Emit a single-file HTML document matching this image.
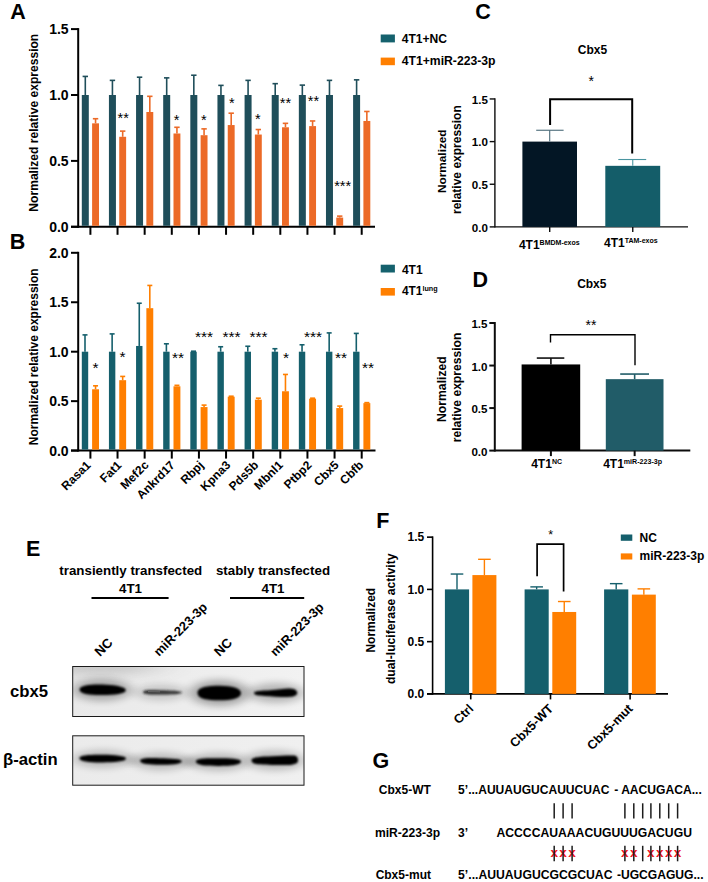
<!DOCTYPE html>
<html><head><meta charset="utf-8"><title>Figure</title>
<style>
html,body{margin:0;padding:0;background:#fff;}
svg{display:block;}
svg text{font-family:'Liberation Sans',sans-serif;font-weight:bold;}
svg text[font-weight=normal]{font-weight:normal;}
</style></head>
<body>
<svg width="708" height="882" viewBox="0 0 708 882">
<defs>
<filter id="b1" x="-20%" y="-80%" width="140%" height="260%"><feGaussianBlur stdDeviation="1.25 0.95"/></filter>
<filter id="b0" x="-20%" y="-300%" width="140%" height="700%"><feGaussianBlur stdDeviation="0.5"/></filter>
<filter id="b2" x="-20%" y="-100%" width="140%" height="300%"><feGaussianBlur stdDeviation="1.2 0.8"/></filter>
<filter id="b4" x="-80%" y="-300%" width="260%" height="700%"><feGaussianBlur stdDeviation="18 6"/></filter>
<filter id="b3" x="-50%" y="-150%" width="200%" height="400%"><feGaussianBlur stdDeviation="6 3.5"/></filter>
<linearGradient id="blotbg1" x1="0" y1="0" x2="1" y2="0"><stop offset="0" stop-color="#e9e9e9"/><stop offset="0.6" stop-color="#eeeeee"/><stop offset="1" stop-color="#f2f2f2"/></linearGradient>
<linearGradient id="blotsh1" x1="0" y1="0" x2="0.6" y2="1"><stop offset="0" stop-color="#bdbdbd" stop-opacity="0.55"/><stop offset="1" stop-color="#dddddd" stop-opacity="0"/></linearGradient>
<linearGradient id="blotbg2" x1="0" y1="0" x2="1" y2="0"><stop offset="0" stop-color="#ebebeb"/><stop offset="1" stop-color="#f0f0f0"/></linearGradient>
<clipPath id="clip1"><rect x="72.7" y="666.5" width="231.3" height="50"/></clipPath>
<clipPath id="clip2"><rect x="72.7" y="735.8" width="231.3" height="49.4"/></clipPath>
</defs>
<rect width="708" height="882" fill="#fff"/>
<text x="10.2" y="19.1" font-size="21.5" text-anchor="start" fill="#000">A</text>
<text x="37.7" y="122.7" font-size="12.08" text-anchor="middle" fill="#000" transform="rotate(-90 37.7 122.7)">Normalized relative expression</text>
<line x1="78.2" y1="28.099999999999994" x2="78.2" y2="227.8" stroke="#000" stroke-width="2" stroke-linecap="butt"/>
<line x1="71" y1="226.8" x2="375" y2="226.8" stroke="#000" stroke-width="2" stroke-linecap="butt"/>
<line x1="71" y1="226.8" x2="78.2" y2="226.8" stroke="#000" stroke-width="2" stroke-linecap="butt"/>
<text x="68.6" y="231.8" font-size="14" text-anchor="end" fill="#000">0.0</text>
<line x1="71" y1="160.9" x2="78.2" y2="160.9" stroke="#000" stroke-width="2" stroke-linecap="butt"/>
<text x="68.6" y="165.9" font-size="14" text-anchor="end" fill="#000">0.5</text>
<line x1="71" y1="95.0" x2="78.2" y2="95.0" stroke="#000" stroke-width="2" stroke-linecap="butt"/>
<text x="68.6" y="100.0" font-size="14" text-anchor="end" fill="#000">1.0</text>
<line x1="71" y1="29.099999999999994" x2="78.2" y2="29.099999999999994" stroke="#000" stroke-width="2" stroke-linecap="butt"/>
<text x="68.6" y="34.099999999999994" font-size="14" text-anchor="end" fill="#000">1.5</text>
<line x1="90.4" y1="226.8" x2="90.4" y2="234.8" stroke="#000" stroke-width="2" stroke-linecap="butt"/>
<rect x="81.80" y="95.00" width="7.00" height="130.80" fill="#1f4e5a"/>
<line x1="85.30000000000001" y1="95.0" x2="85.30000000000001" y2="76.4162" stroke="#1f4e5a" stroke-width="1.6" stroke-linecap="butt"/>
<line x1="82.60000000000001" y1="76.4162" x2="88.00000000000001" y2="76.4162" stroke="#1f4e5a" stroke-width="1.6" stroke-linecap="butt"/>
<rect x="92.10" y="123.34" width="6.90" height="102.46" fill="#ec6a27"/>
<line x1="95.55000000000001" y1="123.337" x2="95.55000000000001" y2="118.724" stroke="#ec6a27" stroke-width="1.6" stroke-linecap="butt"/>
<line x1="92.85000000000001" y1="118.724" x2="98.25000000000001" y2="118.724" stroke="#ec6a27" stroke-width="1.6" stroke-linecap="butt"/>
<line x1="117.53" y1="226.8" x2="117.53" y2="234.8" stroke="#000" stroke-width="2" stroke-linecap="butt"/>
<rect x="108.93" y="95.00" width="7.00" height="130.80" fill="#1f4e5a"/>
<line x1="112.43" y1="95.0" x2="112.43" y2="80.37020000000001" stroke="#1f4e5a" stroke-width="1.6" stroke-linecap="butt"/>
<line x1="109.73" y1="80.37020000000001" x2="115.13000000000001" y2="80.37020000000001" stroke="#1f4e5a" stroke-width="1.6" stroke-linecap="butt"/>
<rect x="119.23" y="136.78" width="6.90" height="89.02" fill="#ec6a27"/>
<line x1="122.68" y1="136.7806" x2="122.68" y2="131.1132" stroke="#ec6a27" stroke-width="1.6" stroke-linecap="butt"/>
<line x1="119.98" y1="131.1132" x2="125.38000000000001" y2="131.1132" stroke="#ec6a27" stroke-width="1.6" stroke-linecap="butt"/>
<line x1="144.66" y1="226.8" x2="144.66" y2="234.8" stroke="#000" stroke-width="2" stroke-linecap="butt"/>
<rect x="136.06" y="95.00" width="7.00" height="130.80" fill="#1f4e5a"/>
<line x1="139.56" y1="95.0" x2="139.56" y2="77.207" stroke="#1f4e5a" stroke-width="1.6" stroke-linecap="butt"/>
<line x1="136.86" y1="77.207" x2="142.26" y2="77.207" stroke="#1f4e5a" stroke-width="1.6" stroke-linecap="butt"/>
<rect x="146.36" y="112.00" width="6.90" height="113.80" fill="#ec6a27"/>
<line x1="149.80999999999997" y1="112.0022" x2="149.80999999999997" y2="96.31800000000001" stroke="#ec6a27" stroke-width="1.6" stroke-linecap="butt"/>
<line x1="147.10999999999999" y1="96.31800000000001" x2="152.50999999999996" y2="96.31800000000001" stroke="#ec6a27" stroke-width="1.6" stroke-linecap="butt"/>
<line x1="171.79000000000002" y1="226.8" x2="171.79000000000002" y2="234.8" stroke="#000" stroke-width="2" stroke-linecap="butt"/>
<rect x="163.19" y="95.00" width="7.00" height="130.80" fill="#1f4e5a"/>
<line x1="166.69000000000003" y1="95.0" x2="166.69000000000003" y2="77.86600000000001" stroke="#1f4e5a" stroke-width="1.6" stroke-linecap="butt"/>
<line x1="163.99000000000004" y1="77.86600000000001" x2="169.39000000000001" y2="77.86600000000001" stroke="#1f4e5a" stroke-width="1.6" stroke-linecap="butt"/>
<rect x="173.49" y="133.49" width="6.90" height="92.31" fill="#ec6a27"/>
<line x1="176.94" y1="133.4856" x2="176.94" y2="127.291" stroke="#ec6a27" stroke-width="1.6" stroke-linecap="butt"/>
<line x1="174.24" y1="127.291" x2="179.64" y2="127.291" stroke="#ec6a27" stroke-width="1.6" stroke-linecap="butt"/>
<line x1="198.92000000000002" y1="226.8" x2="198.92000000000002" y2="234.8" stroke="#000" stroke-width="2" stroke-linecap="butt"/>
<rect x="190.32" y="95.00" width="7.00" height="130.80" fill="#1f4e5a"/>
<line x1="193.82000000000002" y1="95.0" x2="193.82000000000002" y2="75.23000000000002" stroke="#1f4e5a" stroke-width="1.6" stroke-linecap="butt"/>
<line x1="191.12000000000003" y1="75.23000000000002" x2="196.52" y2="75.23000000000002" stroke="#1f4e5a" stroke-width="1.6" stroke-linecap="butt"/>
<rect x="200.62" y="135.20" width="6.90" height="90.60" fill="#ec6a27"/>
<line x1="204.07" y1="135.199" x2="204.07" y2="128.8726" stroke="#ec6a27" stroke-width="1.6" stroke-linecap="butt"/>
<line x1="201.37" y1="128.8726" x2="206.76999999999998" y2="128.8726" stroke="#ec6a27" stroke-width="1.6" stroke-linecap="butt"/>
<line x1="226.05" y1="226.8" x2="226.05" y2="234.8" stroke="#000" stroke-width="2" stroke-linecap="butt"/>
<rect x="217.45" y="95.00" width="7.00" height="130.80" fill="#1f4e5a"/>
<line x1="220.95000000000002" y1="95.0" x2="220.95000000000002" y2="85.3786" stroke="#1f4e5a" stroke-width="1.6" stroke-linecap="butt"/>
<line x1="218.25000000000003" y1="85.3786" x2="223.65" y2="85.3786" stroke="#1f4e5a" stroke-width="1.6" stroke-linecap="butt"/>
<rect x="227.75" y="125.05" width="6.90" height="100.75" fill="#ec6a27"/>
<line x1="231.2" y1="125.0504" x2="231.2" y2="113.1884" stroke="#ec6a27" stroke-width="1.6" stroke-linecap="butt"/>
<line x1="228.5" y1="113.1884" x2="233.89999999999998" y2="113.1884" stroke="#ec6a27" stroke-width="1.6" stroke-linecap="butt"/>
<line x1="253.18" y1="226.8" x2="253.18" y2="234.8" stroke="#000" stroke-width="2" stroke-linecap="butt"/>
<rect x="244.58" y="95.00" width="7.00" height="130.80" fill="#1f4e5a"/>
<line x1="248.08" y1="95.0" x2="248.08" y2="80.37020000000001" stroke="#1f4e5a" stroke-width="1.6" stroke-linecap="butt"/>
<line x1="245.38000000000002" y1="80.37020000000001" x2="250.78" y2="80.37020000000001" stroke="#1f4e5a" stroke-width="1.6" stroke-linecap="butt"/>
<rect x="254.88" y="134.54" width="6.90" height="91.26" fill="#ec6a27"/>
<line x1="258.33" y1="134.54000000000002" x2="258.33" y2="129.5316" stroke="#ec6a27" stroke-width="1.6" stroke-linecap="butt"/>
<line x1="255.63" y1="129.5316" x2="261.03" y2="129.5316" stroke="#ec6a27" stroke-width="1.6" stroke-linecap="butt"/>
<line x1="280.31" y1="226.8" x2="280.31" y2="234.8" stroke="#000" stroke-width="2" stroke-linecap="butt"/>
<rect x="271.71" y="95.00" width="7.00" height="130.80" fill="#1f4e5a"/>
<line x1="275.21" y1="95.0" x2="275.21" y2="83.6652" stroke="#1f4e5a" stroke-width="1.6" stroke-linecap="butt"/>
<line x1="272.51" y1="83.6652" x2="277.90999999999997" y2="83.6652" stroke="#1f4e5a" stroke-width="1.6" stroke-linecap="butt"/>
<rect x="282.01" y="127.29" width="6.90" height="98.51" fill="#ec6a27"/>
<line x1="285.46" y1="127.291" x2="285.46" y2="123.337" stroke="#ec6a27" stroke-width="1.6" stroke-linecap="butt"/>
<line x1="282.76" y1="123.337" x2="288.15999999999997" y2="123.337" stroke="#ec6a27" stroke-width="1.6" stroke-linecap="butt"/>
<line x1="307.44" y1="226.8" x2="307.44" y2="234.8" stroke="#000" stroke-width="2" stroke-linecap="butt"/>
<rect x="298.84" y="95.00" width="7.00" height="130.80" fill="#1f4e5a"/>
<line x1="302.34" y1="95.0" x2="302.34" y2="85.11500000000001" stroke="#1f4e5a" stroke-width="1.6" stroke-linecap="butt"/>
<line x1="299.64" y1="85.11500000000001" x2="305.03999999999996" y2="85.11500000000001" stroke="#1f4e5a" stroke-width="1.6" stroke-linecap="butt"/>
<rect x="309.14" y="126.10" width="6.90" height="99.70" fill="#ec6a27"/>
<line x1="312.59" y1="126.1048" x2="312.59" y2="120.96459999999999" stroke="#ec6a27" stroke-width="1.6" stroke-linecap="butt"/>
<line x1="309.89" y1="120.96459999999999" x2="315.28999999999996" y2="120.96459999999999" stroke="#ec6a27" stroke-width="1.6" stroke-linecap="butt"/>
<line x1="334.57" y1="226.8" x2="334.57" y2="234.8" stroke="#000" stroke-width="2" stroke-linecap="butt"/>
<rect x="325.97" y="95.00" width="7.00" height="130.80" fill="#1f4e5a"/>
<line x1="329.46999999999997" y1="95.0" x2="329.46999999999997" y2="80.37020000000001" stroke="#1f4e5a" stroke-width="1.6" stroke-linecap="butt"/>
<line x1="326.77" y1="80.37020000000001" x2="332.16999999999996" y2="80.37020000000001" stroke="#1f4e5a" stroke-width="1.6" stroke-linecap="butt"/>
<rect x="336.27" y="217.57" width="6.90" height="8.23" fill="#ec6a27"/>
<line x1="339.71999999999997" y1="217.574" x2="339.71999999999997" y2="216.1242" stroke="#ec6a27" stroke-width="1.6" stroke-linecap="butt"/>
<line x1="337.02" y1="216.1242" x2="342.41999999999996" y2="216.1242" stroke="#ec6a27" stroke-width="1.6" stroke-linecap="butt"/>
<line x1="361.70000000000005" y1="226.8" x2="361.70000000000005" y2="234.8" stroke="#000" stroke-width="2" stroke-linecap="butt"/>
<rect x="353.10" y="95.00" width="7.00" height="130.80" fill="#1f4e5a"/>
<line x1="356.6" y1="95.0" x2="356.6" y2="79.84299999999999" stroke="#1f4e5a" stroke-width="1.6" stroke-linecap="butt"/>
<line x1="353.90000000000003" y1="79.84299999999999" x2="359.3" y2="79.84299999999999" stroke="#1f4e5a" stroke-width="1.6" stroke-linecap="butt"/>
<rect x="363.40" y="120.96" width="6.90" height="104.84" fill="#ec6a27"/>
<line x1="366.85" y1="120.96459999999999" x2="366.85" y2="111.475" stroke="#ec6a27" stroke-width="1.6" stroke-linecap="butt"/>
<line x1="364.15000000000003" y1="111.475" x2="369.55" y2="111.475" stroke="#ec6a27" stroke-width="1.6" stroke-linecap="butt"/>
<text x="123.2" y="123.10000000000001" font-size="14.5" text-anchor="middle" fill="#000" font-weight="normal">**</text>
<text x="176.7" y="124.8" font-size="14.5" text-anchor="middle" fill="#000" font-weight="normal">*</text>
<text x="203.8" y="124.5" font-size="14.5" text-anchor="middle" fill="#000" font-weight="normal">*</text>
<text x="231.8" y="107.8" font-size="14.5" text-anchor="middle" fill="#000" font-weight="normal">*</text>
<text x="257.9" y="124.2" font-size="14.5" text-anchor="middle" fill="#000" font-weight="normal">*</text>
<text x="285.5" y="107.8" font-size="14.5" text-anchor="middle" fill="#000" font-weight="normal">**</text>
<text x="313.5" y="105.5" font-size="14.5" text-anchor="middle" fill="#000" font-weight="normal">**</text>
<text x="342.6" y="190.7" font-size="14.5" text-anchor="middle" fill="#000" font-weight="normal">***</text>
<rect x="380.70" y="34.50" width="14.20" height="7.90" fill="#15616d"/>
<rect x="380.70" y="57.60" width="14.20" height="7.60" fill="#ff7f00"/>
<text x="401.7" y="43.4" font-size="12.1" text-anchor="start" fill="#000">4T1+NC</text>
<text x="401.7" y="65.0" font-size="12.2" text-anchor="start" fill="#000">4T1+miR-223-3p</text>
<text x="9.8" y="249.1" font-size="21.5" text-anchor="start" fill="#000">B</text>
<text x="37.7" y="356.8" font-size="12" text-anchor="middle" fill="#000" transform="rotate(-90 37.7 356.8)">Normalized relative expression</text>
<line x1="78.2" y1="251.8" x2="78.2" y2="451.6" stroke="#000" stroke-width="2" stroke-linecap="butt"/>
<line x1="71" y1="450.6" x2="375.5" y2="450.6" stroke="#000" stroke-width="2" stroke-linecap="butt"/>
<line x1="71" y1="450.6" x2="78.2" y2="450.6" stroke="#000" stroke-width="2" stroke-linecap="butt"/>
<text x="68.6" y="455.6" font-size="14" text-anchor="end" fill="#000">0.0</text>
<line x1="71" y1="401.15000000000003" x2="78.2" y2="401.15000000000003" stroke="#000" stroke-width="2" stroke-linecap="butt"/>
<text x="68.6" y="406.15000000000003" font-size="14" text-anchor="end" fill="#000">0.5</text>
<line x1="71" y1="351.70000000000005" x2="78.2" y2="351.70000000000005" stroke="#000" stroke-width="2" stroke-linecap="butt"/>
<text x="68.6" y="356.70000000000005" font-size="14" text-anchor="end" fill="#000">1.0</text>
<line x1="71" y1="302.25" x2="78.2" y2="302.25" stroke="#000" stroke-width="2" stroke-linecap="butt"/>
<text x="68.6" y="307.25" font-size="14" text-anchor="end" fill="#000">1.5</text>
<line x1="71" y1="252.8" x2="78.2" y2="252.8" stroke="#000" stroke-width="2" stroke-linecap="butt"/>
<text x="68.6" y="257.8" font-size="14" text-anchor="end" fill="#000">2.0</text>
<line x1="90.4" y1="450.6" x2="90.4" y2="458.6" stroke="#000" stroke-width="2" stroke-linecap="butt"/>
<rect x="81.80" y="351.70" width="6.40" height="97.90" fill="#155f6c"/>
<line x1="85.00000000000001" y1="351.70000000000005" x2="85.00000000000001" y2="334.88700000000006" stroke="#155f6c" stroke-width="1.6" stroke-linecap="butt"/>
<line x1="82.50000000000001" y1="334.88700000000006" x2="87.50000000000001" y2="334.88700000000006" stroke="#155f6c" stroke-width="1.6" stroke-linecap="butt"/>
<rect x="92.10" y="389.28" width="6.90" height="60.32" fill="#ff7f00"/>
<line x1="95.55000000000001" y1="389.28200000000004" x2="95.55000000000001" y2="385.82050000000004" stroke="#ff7f00" stroke-width="1.6" stroke-linecap="butt"/>
<line x1="93.05000000000001" y1="385.82050000000004" x2="98.05000000000001" y2="385.82050000000004" stroke="#ff7f00" stroke-width="1.6" stroke-linecap="butt"/>
<text x="91.4" y="465.90000000000003" font-size="12" text-anchor="end" fill="#000" transform="rotate(-45 91.4 465.90000000000003)">Rasa1</text>
<line x1="117.53" y1="450.6" x2="117.53" y2="458.6" stroke="#000" stroke-width="2" stroke-linecap="butt"/>
<rect x="108.93" y="351.70" width="6.40" height="97.90" fill="#155f6c"/>
<line x1="112.13000000000001" y1="351.70000000000005" x2="112.13000000000001" y2="333.898" stroke="#155f6c" stroke-width="1.6" stroke-linecap="butt"/>
<line x1="109.63000000000001" y1="333.898" x2="114.63000000000001" y2="333.898" stroke="#155f6c" stroke-width="1.6" stroke-linecap="butt"/>
<rect x="119.23" y="380.18" width="6.90" height="69.42" fill="#ff7f00"/>
<line x1="122.68" y1="380.18320000000006" x2="122.68" y2="376.425" stroke="#ff7f00" stroke-width="1.6" stroke-linecap="butt"/>
<line x1="120.18" y1="376.425" x2="125.18" y2="376.425" stroke="#ff7f00" stroke-width="1.6" stroke-linecap="butt"/>
<text x="122.23" y="465.90000000000003" font-size="12" text-anchor="end" fill="#000" transform="rotate(-45 122.23 465.90000000000003)">Fat1</text>
<line x1="144.66" y1="450.6" x2="144.66" y2="458.6" stroke="#000" stroke-width="2" stroke-linecap="butt"/>
<rect x="136.06" y="345.96" width="6.40" height="103.64" fill="#155f6c"/>
<line x1="139.26" y1="345.9638" x2="139.26" y2="303.23900000000003" stroke="#155f6c" stroke-width="1.6" stroke-linecap="butt"/>
<line x1="136.76" y1="303.23900000000003" x2="141.76" y2="303.23900000000003" stroke="#155f6c" stroke-width="1.6" stroke-linecap="butt"/>
<rect x="146.36" y="308.18" width="6.90" height="141.42" fill="#ff7f00"/>
<line x1="149.80999999999997" y1="308.184" x2="149.80999999999997" y2="285.437" stroke="#ff7f00" stroke-width="1.6" stroke-linecap="butt"/>
<line x1="147.30999999999997" y1="285.437" x2="152.30999999999997" y2="285.437" stroke="#ff7f00" stroke-width="1.6" stroke-linecap="butt"/>
<text x="149.35999999999999" y="465.90000000000003" font-size="12" text-anchor="end" fill="#000" transform="rotate(-45 149.35999999999999 465.90000000000003)">Mef2c</text>
<line x1="171.79000000000002" y1="450.6" x2="171.79000000000002" y2="458.6" stroke="#000" stroke-width="2" stroke-linecap="butt"/>
<rect x="163.19" y="351.70" width="6.40" height="97.90" fill="#155f6c"/>
<line x1="166.39000000000001" y1="351.70000000000005" x2="166.39000000000001" y2="343.788" stroke="#155f6c" stroke-width="1.6" stroke-linecap="butt"/>
<line x1="163.89000000000001" y1="343.788" x2="168.89000000000001" y2="343.788" stroke="#155f6c" stroke-width="1.6" stroke-linecap="butt"/>
<rect x="173.49" y="386.31" width="6.90" height="63.29" fill="#ff7f00"/>
<line x1="176.94" y1="386.315" x2="176.94" y2="385.326" stroke="#ff7f00" stroke-width="1.6" stroke-linecap="butt"/>
<line x1="174.44" y1="385.326" x2="179.44" y2="385.326" stroke="#ff7f00" stroke-width="1.6" stroke-linecap="butt"/>
<text x="175.59000000000003" y="465.90000000000003" font-size="12" text-anchor="end" fill="#000" transform="rotate(-45 175.59000000000003 465.90000000000003)">Ankrd17</text>
<line x1="198.92000000000002" y1="450.6" x2="198.92000000000002" y2="458.6" stroke="#000" stroke-width="2" stroke-linecap="butt"/>
<rect x="190.32" y="351.70" width="6.40" height="97.90" fill="#155f6c"/>
<line x1="193.52" y1="351.70000000000005" x2="193.52" y2="351.20550000000003" stroke="#155f6c" stroke-width="1.6" stroke-linecap="butt"/>
<line x1="191.02" y1="351.20550000000003" x2="196.02" y2="351.20550000000003" stroke="#155f6c" stroke-width="1.6" stroke-linecap="butt"/>
<rect x="200.62" y="407.08" width="6.90" height="42.52" fill="#ff7f00"/>
<line x1="204.07" y1="407.084" x2="204.07" y2="405.106" stroke="#ff7f00" stroke-width="1.6" stroke-linecap="butt"/>
<line x1="201.57" y1="405.106" x2="206.57" y2="405.106" stroke="#ff7f00" stroke-width="1.6" stroke-linecap="butt"/>
<text x="204.42000000000002" y="465.90000000000003" font-size="12" text-anchor="end" fill="#000" transform="rotate(-45 204.42000000000002 465.90000000000003)">Rbpj</text>
<line x1="226.05" y1="450.6" x2="226.05" y2="458.6" stroke="#000" stroke-width="2" stroke-linecap="butt"/>
<rect x="217.45" y="351.70" width="6.40" height="97.90" fill="#155f6c"/>
<line x1="220.65" y1="351.70000000000005" x2="220.65" y2="346.755" stroke="#155f6c" stroke-width="1.6" stroke-linecap="butt"/>
<line x1="218.15" y1="346.755" x2="223.15" y2="346.755" stroke="#155f6c" stroke-width="1.6" stroke-linecap="butt"/>
<rect x="227.75" y="396.70" width="6.90" height="52.90" fill="#ff7f00"/>
<line x1="231.2" y1="396.6995" x2="231.2" y2="396.20500000000004" stroke="#ff7f00" stroke-width="1.6" stroke-linecap="butt"/>
<line x1="228.7" y1="396.20500000000004" x2="233.7" y2="396.20500000000004" stroke="#ff7f00" stroke-width="1.6" stroke-linecap="butt"/>
<text x="231.25" y="465.90000000000003" font-size="12" text-anchor="end" fill="#000" transform="rotate(-45 231.25 465.90000000000003)">Kpna3</text>
<line x1="253.18" y1="450.6" x2="253.18" y2="458.6" stroke="#000" stroke-width="2" stroke-linecap="butt"/>
<rect x="244.58" y="351.70" width="6.40" height="97.90" fill="#155f6c"/>
<line x1="247.78" y1="351.70000000000005" x2="247.78" y2="346.26050000000004" stroke="#155f6c" stroke-width="1.6" stroke-linecap="butt"/>
<line x1="245.28" y1="346.26050000000004" x2="250.28" y2="346.26050000000004" stroke="#155f6c" stroke-width="1.6" stroke-linecap="butt"/>
<rect x="254.88" y="399.67" width="6.90" height="49.93" fill="#ff7f00"/>
<line x1="258.33" y1="399.66650000000004" x2="258.33" y2="398.183" stroke="#ff7f00" stroke-width="1.6" stroke-linecap="butt"/>
<line x1="255.82999999999998" y1="398.183" x2="260.83" y2="398.183" stroke="#ff7f00" stroke-width="1.6" stroke-linecap="butt"/>
<text x="259.18" y="465.90000000000003" font-size="12" text-anchor="end" fill="#000" transform="rotate(-45 259.18 465.90000000000003)">Pds5b</text>
<line x1="280.31" y1="450.6" x2="280.31" y2="458.6" stroke="#000" stroke-width="2" stroke-linecap="butt"/>
<rect x="271.71" y="351.70" width="6.40" height="97.90" fill="#155f6c"/>
<line x1="274.90999999999997" y1="351.70000000000005" x2="274.90999999999997" y2="348.733" stroke="#155f6c" stroke-width="1.6" stroke-linecap="butt"/>
<line x1="272.40999999999997" y1="348.733" x2="277.40999999999997" y2="348.733" stroke="#155f6c" stroke-width="1.6" stroke-linecap="butt"/>
<rect x="282.01" y="391.26" width="6.90" height="58.34" fill="#ff7f00"/>
<line x1="285.46" y1="391.26" x2="285.46" y2="374.447" stroke="#ff7f00" stroke-width="1.6" stroke-linecap="butt"/>
<line x1="282.96" y1="374.447" x2="287.96" y2="374.447" stroke="#ff7f00" stroke-width="1.6" stroke-linecap="butt"/>
<text x="283.61" y="465.90000000000003" font-size="12" text-anchor="end" fill="#000" transform="rotate(-45 283.61 465.90000000000003)">Mbnl1</text>
<line x1="307.44" y1="450.6" x2="307.44" y2="458.6" stroke="#000" stroke-width="2" stroke-linecap="butt"/>
<rect x="298.84" y="351.70" width="6.40" height="97.90" fill="#155f6c"/>
<line x1="302.03999999999996" y1="351.70000000000005" x2="302.03999999999996" y2="344.77700000000004" stroke="#155f6c" stroke-width="1.6" stroke-linecap="butt"/>
<line x1="299.53999999999996" y1="344.77700000000004" x2="304.53999999999996" y2="344.77700000000004" stroke="#155f6c" stroke-width="1.6" stroke-linecap="butt"/>
<rect x="309.14" y="398.68" width="6.90" height="50.92" fill="#ff7f00"/>
<line x1="312.59" y1="398.6775" x2="312.59" y2="398.183" stroke="#ff7f00" stroke-width="1.6" stroke-linecap="butt"/>
<line x1="310.09" y1="398.183" x2="315.09" y2="398.183" stroke="#ff7f00" stroke-width="1.6" stroke-linecap="butt"/>
<text x="312.44" y="465.90000000000003" font-size="12" text-anchor="end" fill="#000" transform="rotate(-45 312.44 465.90000000000003)">Ptbp2</text>
<line x1="334.57" y1="450.6" x2="334.57" y2="458.6" stroke="#000" stroke-width="2" stroke-linecap="butt"/>
<rect x="325.97" y="351.70" width="6.40" height="97.90" fill="#155f6c"/>
<line x1="329.16999999999996" y1="351.70000000000005" x2="329.16999999999996" y2="332.909" stroke="#155f6c" stroke-width="1.6" stroke-linecap="butt"/>
<line x1="326.66999999999996" y1="332.909" x2="331.66999999999996" y2="332.909" stroke="#155f6c" stroke-width="1.6" stroke-linecap="butt"/>
<rect x="336.27" y="408.07" width="6.90" height="41.53" fill="#ff7f00"/>
<line x1="339.71999999999997" y1="408.07300000000004" x2="339.71999999999997" y2="406.095" stroke="#ff7f00" stroke-width="1.6" stroke-linecap="butt"/>
<line x1="337.21999999999997" y1="406.095" x2="342.21999999999997" y2="406.095" stroke="#ff7f00" stroke-width="1.6" stroke-linecap="butt"/>
<text x="339.57" y="465.90000000000003" font-size="12" text-anchor="end" fill="#000" transform="rotate(-45 339.57 465.90000000000003)">Cbx5</text>
<line x1="361.70000000000005" y1="450.6" x2="361.70000000000005" y2="458.6" stroke="#000" stroke-width="2" stroke-linecap="butt"/>
<rect x="353.10" y="351.70" width="6.40" height="97.90" fill="#155f6c"/>
<line x1="356.3" y1="351.70000000000005" x2="356.3" y2="333.4035" stroke="#155f6c" stroke-width="1.6" stroke-linecap="butt"/>
<line x1="353.8" y1="333.4035" x2="358.8" y2="333.4035" stroke="#155f6c" stroke-width="1.6" stroke-linecap="butt"/>
<rect x="363.40" y="403.13" width="6.90" height="46.47" fill="#ff7f00"/>
<line x1="366.85" y1="403.12800000000004" x2="366.85" y2="402.6335" stroke="#ff7f00" stroke-width="1.6" stroke-linecap="butt"/>
<line x1="364.35" y1="402.6335" x2="369.35" y2="402.6335" stroke="#ff7f00" stroke-width="1.6" stroke-linecap="butt"/>
<text x="364.1" y="465.90000000000003" font-size="12" text-anchor="end" fill="#000" transform="rotate(-45 364.1 465.90000000000003)">Cbfb</text>
<text x="95.4" y="373.0" font-size="15.5" text-anchor="middle" fill="#000" font-weight="normal">*</text>
<text x="122.6" y="362.2" font-size="15.5" text-anchor="middle" fill="#000" font-weight="normal">*</text>
<text x="178" y="362.8" font-size="15.5" text-anchor="middle" fill="#000" font-weight="normal">**</text>
<text x="204" y="342.0" font-size="15.5" text-anchor="middle" fill="#000" font-weight="normal">***</text>
<text x="231.5" y="342.0" font-size="15.5" text-anchor="middle" fill="#000" font-weight="normal">***</text>
<text x="258.5" y="342.0" font-size="15.5" text-anchor="middle" fill="#000" font-weight="normal">***</text>
<text x="286" y="363.0" font-size="15.5" text-anchor="middle" fill="#000" font-weight="normal">*</text>
<text x="313" y="342.0" font-size="15.5" text-anchor="middle" fill="#000" font-weight="normal">***</text>
<text x="341" y="363.0" font-size="15.5" text-anchor="middle" fill="#000" font-weight="normal">**</text>
<text x="368" y="373.0" font-size="15.5" text-anchor="middle" fill="#000" font-weight="normal">**</text>
<rect x="380.70" y="264.70" width="14.20" height="7.80" fill="#15616d"/>
<rect x="380.70" y="288.00" width="14.20" height="7.60" fill="#ff7f00"/>
<text x="401.9" y="273.5" font-size="12" text-anchor="start" fill="#000">4T1</text>
<text x="401.9" y="295.2" font-size="11.9">4T1<tspan dy="-4.3" font-size="7.2">lung</tspan></text>
<text x="475.3" y="19.0" font-size="21.5" text-anchor="start" fill="#000">C</text>
<text x="592.4" y="54.4" font-size="12" text-anchor="middle" fill="#000">Cbx5</text>
<line x1="494.9" y1="98.25000000000001" x2="494.9" y2="227.6" stroke="#0c0c0c" stroke-width="1.4" stroke-linecap="butt"/>
<line x1="494.9" y1="226.9" x2="688" y2="226.9" stroke="#0c0c0c" stroke-width="1.4" stroke-linecap="butt"/>
<line x1="489.7" y1="226.9" x2="494.9" y2="226.9" stroke="#0c0c0c" stroke-width="1.4" stroke-linecap="butt"/>
<text x="487.9" y="231.5" font-size="11.6" text-anchor="end" fill="#000">0.0</text>
<line x1="489.7" y1="184.25" x2="494.9" y2="184.25" stroke="#0c0c0c" stroke-width="1.4" stroke-linecap="butt"/>
<text x="487.9" y="188.85" font-size="11.6" text-anchor="end" fill="#000">0.5</text>
<line x1="489.7" y1="141.60000000000002" x2="494.9" y2="141.60000000000002" stroke="#0c0c0c" stroke-width="1.4" stroke-linecap="butt"/>
<text x="487.9" y="146.20000000000002" font-size="11.6" text-anchor="end" fill="#000">1.0</text>
<line x1="489.7" y1="98.95000000000002" x2="494.9" y2="98.95000000000002" stroke="#0c0c0c" stroke-width="1.4" stroke-linecap="butt"/>
<text x="487.9" y="103.55000000000001" font-size="11.6" text-anchor="end" fill="#000">1.5</text>
<text x="446.4" y="161.20000000000002" font-size="11.8" text-anchor="middle" fill="#000" transform="rotate(-90 446.4 161.20000000000002)">Normalized</text>
<text x="461.1" y="159.6" font-size="12" text-anchor="middle" fill="#000" transform="rotate(-90 461.1 159.6)">relative expression</text>
<rect x="522.40" y="141.60" width="54.60" height="85.30" fill="#031625"/>
<line x1="549.7" y1="141.60000000000002" x2="549.7" y2="130.25510000000003" stroke="#4a6a78" stroke-width="1.1" stroke-linecap="butt"/>
<line x1="536.2" y1="130.25510000000003" x2="563.6" y2="130.25510000000003" stroke="#4a6a78" stroke-width="1.1" stroke-linecap="butt"/>
<line x1="549.7" y1="226.9" x2="549.7" y2="232.1" stroke="#0c0c0c" stroke-width="1.4" stroke-linecap="butt"/>
<rect x="605.30" y="165.83" width="54.90" height="61.07" fill="#145d69"/>
<line x1="632.75" y1="165.8252" x2="632.75" y2="159.513" stroke="#4a95a0" stroke-width="1.1" stroke-linecap="butt"/>
<line x1="618.3" y1="159.513" x2="646.2" y2="159.513" stroke="#4a95a0" stroke-width="1.1" stroke-linecap="butt"/>
<line x1="632.75" y1="226.9" x2="632.75" y2="232.1" stroke="#0c0c0c" stroke-width="1.4" stroke-linecap="butt"/>
<path d="M550.1 125 V99.3 H632.2 V153.5" fill="none" stroke="#000" stroke-width="2.0"/>
<text x="591.3" y="86.4" font-size="14" text-anchor="middle" fill="#000" font-weight="normal">*</text>
<text x="549.3" y="248.6" font-size="12" text-anchor="middle">4T1<tspan dy="-4" font-size="7">BMDM-exos</tspan></text>
<text x="630.8" y="247.4" font-size="12" text-anchor="middle">4T1<tspan dy="-4" font-size="7">TAM-exos</tspan></text>
<text x="472.4" y="287.4" font-size="21.5" text-anchor="start" fill="#000">D</text>
<text x="591.8" y="287.7" font-size="12" text-anchor="middle" fill="#000">Cbx5</text>
<line x1="494.8" y1="322.02500000000003" x2="494.8" y2="451.6" stroke="#0c0c0c" stroke-width="2.0" stroke-linecap="butt"/>
<line x1="494.8" y1="450.6" x2="690.3" y2="450.6" stroke="#0c0c0c" stroke-width="2.0" stroke-linecap="butt"/>
<line x1="489.3" y1="450.6" x2="494.8" y2="450.6" stroke="#0c0c0c" stroke-width="2.0" stroke-linecap="butt"/>
<text x="487.5" y="455.8" font-size="11.6" text-anchor="end" fill="#000">0.0</text>
<line x1="489.3" y1="408.07500000000005" x2="494.8" y2="408.07500000000005" stroke="#0c0c0c" stroke-width="2.0" stroke-linecap="butt"/>
<text x="487.5" y="413.27500000000003" font-size="11.6" text-anchor="end" fill="#000">0.5</text>
<line x1="489.3" y1="365.55" x2="494.8" y2="365.55" stroke="#0c0c0c" stroke-width="2.0" stroke-linecap="butt"/>
<text x="487.5" y="370.75" font-size="11.6" text-anchor="end" fill="#000">1.0</text>
<line x1="489.3" y1="323.02500000000003" x2="494.8" y2="323.02500000000003" stroke="#0c0c0c" stroke-width="2.0" stroke-linecap="butt"/>
<text x="487.5" y="328.225" font-size="11.6" text-anchor="end" fill="#000">1.5</text>
<text x="446.4" y="389.1" font-size="12.2" text-anchor="middle" fill="#000" transform="rotate(-90 446.4 389.1)">Normalized</text>
<text x="461.1" y="387.5" font-size="12.1" text-anchor="middle" fill="#000" transform="rotate(-90 461.1 387.5)">relative expression</text>
<rect x="521.60" y="364.44" width="58.60" height="86.16" fill="#000"/>
<line x1="550.9000000000001" y1="364.44435000000004" x2="550.9000000000001" y2="358.0656" stroke="#111" stroke-width="1.6" stroke-linecap="butt"/>
<line x1="536.8" y1="358.0656" x2="564.3" y2="358.0656" stroke="#111" stroke-width="1.6" stroke-linecap="butt"/>
<line x1="550.9000000000001" y1="450.6" x2="550.9000000000001" y2="456.1" stroke="#0c0c0c" stroke-width="2.0" stroke-linecap="butt"/>
<rect x="605.80" y="379.16" width="57.70" height="71.44" fill="#215c68"/>
<line x1="634.65" y1="379.158" x2="634.65" y2="374.055" stroke="#215c68" stroke-width="1.6" stroke-linecap="butt"/>
<line x1="620.2" y1="374.055" x2="649" y2="374.055" stroke="#215c68" stroke-width="1.6" stroke-linecap="butt"/>
<line x1="634.65" y1="450.6" x2="634.65" y2="456.1" stroke="#0c0c0c" stroke-width="2.0" stroke-linecap="butt"/>
<path d="M550.5 342.6 V334.8 H635 V365.3" fill="none" stroke="#000" stroke-width="1.4"/>
<text x="591" y="329.5" font-size="14" text-anchor="middle" fill="#000" font-weight="normal">**</text>
<text x="546.6" y="467.6" font-size="12" text-anchor="middle">4T1<tspan dy="-4" font-size="7">NC</tspan></text>
<text x="632.6" y="467.6" font-size="12" text-anchor="middle">4T1<tspan dy="-4" font-size="7.1">miR-223-3p</tspan></text>
<text x="26" y="555.6" font-size="21.5" text-anchor="start" fill="#000">E</text>
<text x="130.8" y="575.2" font-size="13.33" text-anchor="middle" fill="#000">transiently transfected</text>
<text x="273" y="575.2" font-size="13.33" text-anchor="middle" fill="#000">stably transfected</text>
<text x="130.5" y="592.8" font-size="13.33" text-anchor="middle" fill="#000">4T1</text>
<text x="273" y="592.8" font-size="13.33" text-anchor="middle" fill="#000">4T1</text>
<line x1="91.5" y1="598.1" x2="168.6" y2="598.1" stroke="#000" stroke-width="2" stroke-linecap="butt"/>
<line x1="230" y1="598.1" x2="304.2" y2="598.1" stroke="#000" stroke-width="2" stroke-linecap="butt"/>
<text x="100" y="657" font-size="13.2" text-anchor="start" fill="#000" transform="rotate(-45 100 657)">NC</text>
<text x="159" y="657" font-size="12.9" text-anchor="start" fill="#000" transform="rotate(-45 159 657)">miR-223-3p</text>
<text x="219.5" y="657" font-size="13.2" text-anchor="start" fill="#000" transform="rotate(-45 219.5 657)">NC</text>
<text x="275.5" y="657" font-size="12.9" text-anchor="start" fill="#000" transform="rotate(-45 275.5 657)">miR-223-3p</text>
<text x="10" y="697" font-size="16.7" text-anchor="start" fill="#000">cbx5</text>
<text x="3" y="764.7" font-size="16.7" text-anchor="start" fill="#000">β-actin</text>
<g clip-path="url(#clip1)">
<rect x="72.7" y="666.5" width="231.3" height="50" fill="url(#blotbg1)"/>
<ellipse cx="100" cy="666" rx="60" ry="9" fill="#9a9a9a" opacity="0.45" filter="url(#b4)"/>
<ellipse cx="102" cy="690" rx="30" ry="11" fill="#050505" opacity="0.27" filter="url(#b3)"/>
<ellipse cx="161" cy="692.5" rx="26" ry="8" fill="#050505" opacity="0.16" filter="url(#b3)"/>
<ellipse cx="219.5" cy="693" rx="30" ry="13" fill="#050505" opacity="0.3" filter="url(#b3)"/>
<ellipse cx="276" cy="693" rx="28" ry="10" fill="#050505" opacity="0.24" filter="url(#b3)"/>
<path d="M79.5 689.5 C80 684.6 95 684.2 106 684.8 C116 685.3 125.8 687 125.8 690.3 C125.8 693.8 114 695 103 695 C92 695.2 79.5 694.5 79.5 689.5 Z" fill="#050505" filter="url(#b1)"/>
<path d="M143 692 C143.3 689.9 150 689.8 160 690.3 C170 690.6 182 690.9 182 692.5 C182 694.2 170 694.5 160 694.5 C150 694.7 143 694.4 143 692 Z" fill="#1c1c1c" opacity="0.86" filter="url(#b2)"/>
<path d="M148 691.7 L160 691.9" stroke="#9a9a9a" stroke-width="0.7" opacity="0.7" filter="url(#b0)"/>
<path d="M197.5 693 C197.5 686.6 210 685.7 220 685.8 C231 685.9 241 687.8 241 693 C241 698.6 231 700.3 219 700.3 C208 700.3 197.5 699.2 197.5 693 Z" fill="#030303" filter="url(#b1)"/>
<path d="M254 693 C254 690.8 262 690.7 270 690.2 C278 689.6 285 688.3 290 688.5 C295 688.7 297.2 690.6 297.2 692.8 C297.2 695.5 294 696.9 288 697 C280 697.1 272 696.3 265 695.9 C259 695.6 254 695.3 254 693 Z" fill="#050505" filter="url(#b1)"/>
</g>
<rect x="72.7" y="666.5" width="231.3" height="50" fill="none" stroke="#1a1a1a" stroke-width="1"/>
<g clip-path="url(#clip2)">
<rect x="72.7" y="735.8" width="231.3" height="49.4" fill="url(#blotbg2)"/>
<ellipse cx="102.5" cy="759" rx="30" ry="9" fill="#050505" opacity="0.2" filter="url(#b3)"/>
<ellipse cx="161" cy="761.5" rx="28" ry="9" fill="#050505" opacity="0.2" filter="url(#b3)"/>
<ellipse cx="218.5" cy="762" rx="30" ry="9" fill="#050505" opacity="0.22" filter="url(#b3)"/>
<ellipse cx="275" cy="760.5" rx="30" ry="10" fill="#050505" opacity="0.22" filter="url(#b3)"/>
<ellipse cx="189" cy="761.5" rx="12" ry="2.2" fill="#050505" opacity="0.35" filter="url(#b3)"/>
<ellipse cx="133" cy="760" rx="10" ry="2" fill="#050505" opacity="0.25" filter="url(#b3)"/>
<path d="M79.3 758 C79.8 754.9 92 754.6 103 754.8 C114 755 126 755.9 126 758.6 C126 761.7 114 762.4 103 762.4 C92 762.6 79.3 761.9 79.3 758 Z" fill="#050505" filter="url(#b1)"/>
<path d="M140 760.6 C140.5 757.9 150 757.8 160 758.2 C170 758.4 181.8 758.8 181.8 761.2 C181.8 764.3 170 764.8 160 764.8 C150 764.8 140 764.3 140 760.6 Z" fill="#050505" filter="url(#b1)"/>
<path d="M195.8 761.6 C196 758.3 207 758.2 218 758.3 C229 758.3 241 758.8 241 761.6 C241 765.4 229 766 218 766 C207 766 195.8 765.4 195.8 761.6 Z" fill="#050505" filter="url(#b1)"/>
<path d="M251.5 760 C251.5 757 262 756.7 272 756.3 C282 755.8 290 755 294 755.6 C297.7 756.2 298 758.6 298 760.4 C298 763.8 293 765.1 285 765.1 C275 765.2 264 764.8 258 764.3 C254 763.9 251.5 762.8 251.5 760 Z" fill="#050505" filter="url(#b1)"/>
</g>
<rect x="72.7" y="735.8" width="231.3" height="49.4" fill="none" stroke="#1a1a1a" stroke-width="1"/>
<text x="376.2" y="528" font-size="21.5" text-anchor="start" fill="#000">F</text>
<text x="375.1" y="620.2" font-size="12" text-anchor="middle" fill="#000" transform="rotate(-90 375.1 620.2)">Normalized</text>
<text x="394.7" y="618.8" font-size="12.1" text-anchor="middle" fill="#000" transform="rotate(-90 394.7 618.8)">dual-luciferase activity</text>
<line x1="432.6" y1="536.35" x2="432.6" y2="694.6999999999999" stroke="#000" stroke-width="1.6" stroke-linecap="butt"/>
<line x1="427" y1="693.9" x2="668" y2="693.9" stroke="#000" stroke-width="1.6" stroke-linecap="butt"/>
<line x1="427" y1="693.9" x2="432.6" y2="693.9" stroke="#000" stroke-width="1.6" stroke-linecap="butt"/>
<text x="424.3" y="698.1999999999999" font-size="12" text-anchor="end" fill="#000">0.0</text>
<line x1="427" y1="641.65" x2="432.6" y2="641.65" stroke="#000" stroke-width="1.6" stroke-linecap="butt"/>
<text x="424.3" y="645.9499999999999" font-size="12" text-anchor="end" fill="#000">0.5</text>
<line x1="427" y1="589.4" x2="432.6" y2="589.4" stroke="#000" stroke-width="1.6" stroke-linecap="butt"/>
<text x="424.3" y="593.6999999999999" font-size="12" text-anchor="end" fill="#000">1.0</text>
<line x1="427" y1="537.15" x2="432.6" y2="537.15" stroke="#000" stroke-width="1.6" stroke-linecap="butt"/>
<text x="424.3" y="541.4499999999999" font-size="12" text-anchor="end" fill="#000">1.5</text>
<rect x="444.90" y="589.40" width="24.20" height="104.50" fill="#155f6c"/>
<rect x="472.40" y="575.08" width="24.00" height="118.82" fill="#ff7f00"/>
<line x1="457.0" y1="589.4" x2="457.0" y2="574.0385" stroke="#155f6c" stroke-width="1.4" stroke-linecap="butt"/>
<line x1="450.7" y1="574.0385" x2="463.3" y2="574.0385" stroke="#155f6c" stroke-width="1.4" stroke-linecap="butt"/>
<line x1="484.4" y1="575.0835" x2="484.4" y2="559.304" stroke="#ff7f00" stroke-width="1.4" stroke-linecap="butt"/>
<line x1="478.09999999999997" y1="559.304" x2="490.7" y2="559.304" stroke="#ff7f00" stroke-width="1.4" stroke-linecap="butt"/>
<line x1="470.75" y1="693.9" x2="470.75" y2="699.4" stroke="#000" stroke-width="1.6" stroke-linecap="butt"/>
<text x="474.25" y="709.4" font-size="12.7" text-anchor="end" fill="#000" transform="rotate(-45 474.25 709.4)">Ctrl</text>
<rect x="524.60" y="589.40" width="24.10" height="104.50" fill="#155f6c"/>
<rect x="552.30" y="611.97" width="23.90" height="81.93" fill="#ff7f00"/>
<line x1="536.6500000000001" y1="589.4" x2="536.6500000000001" y2="586.8919999999999" stroke="#155f6c" stroke-width="1.4" stroke-linecap="butt"/>
<line x1="530.3500000000001" y1="586.8919999999999" x2="542.95" y2="586.8919999999999" stroke="#155f6c" stroke-width="1.4" stroke-linecap="butt"/>
<line x1="564.25" y1="611.972" x2="564.25" y2="601.5219999999999" stroke="#ff7f00" stroke-width="1.4" stroke-linecap="butt"/>
<line x1="557.95" y1="601.5219999999999" x2="570.55" y2="601.5219999999999" stroke="#ff7f00" stroke-width="1.4" stroke-linecap="butt"/>
<line x1="550.5" y1="693.9" x2="550.5" y2="699.4" stroke="#000" stroke-width="1.6" stroke-linecap="butt"/>
<text x="554.0" y="709.4" font-size="12.7" text-anchor="end" fill="#000" transform="rotate(-45 554.0 709.4)">Cbx5-WT</text>
<rect x="604.10" y="589.40" width="24.20" height="104.50" fill="#155f6c"/>
<rect x="631.90" y="594.62" width="23.90" height="99.27" fill="#ff7f00"/>
<line x1="616.2" y1="589.4" x2="616.2" y2="583.6525" stroke="#155f6c" stroke-width="1.4" stroke-linecap="butt"/>
<line x1="609.9000000000001" y1="583.6525" x2="622.5" y2="583.6525" stroke="#155f6c" stroke-width="1.4" stroke-linecap="butt"/>
<line x1="643.8499999999999" y1="594.625" x2="643.8499999999999" y2="588.8774999999999" stroke="#ff7f00" stroke-width="1.4" stroke-linecap="butt"/>
<line x1="637.55" y1="588.8774999999999" x2="650.1499999999999" y2="588.8774999999999" stroke="#ff7f00" stroke-width="1.4" stroke-linecap="butt"/>
<line x1="630.0999999999999" y1="693.9" x2="630.0999999999999" y2="699.4" stroke="#000" stroke-width="1.6" stroke-linecap="butt"/>
<text x="633.5999999999999" y="709.4" font-size="12.7" text-anchor="end" fill="#000" transform="rotate(-45 633.5999999999999 709.4)">Cbx5-mut</text>
<path d="M537.1 576.3 V544.1 H563.6 V591.5" fill="none" stroke="#000" stroke-width="1.7"/>
<text x="550.7" y="539.0" font-size="12.5" text-anchor="middle" fill="#000" font-weight="normal">*</text>
<rect x="620.80" y="534.50" width="11.50" height="6.30" fill="#155f6c"/>
<rect x="620.80" y="553.40" width="11.50" height="6.10" fill="#ff7f00"/>
<text x="639.6" y="541.9" font-size="12" text-anchor="start" fill="#000">NC</text>
<text x="639.6" y="560.2" font-size="12" text-anchor="start" fill="#000">miR-223-3p</text>
<text x="372.4" y="767.7" font-size="21.5" text-anchor="start" fill="#000">G</text>
<text x="404.8" y="793.5" font-size="12" text-anchor="middle" fill="#000">Cbx5-WT</text>
<text x="407.6" y="836.9" font-size="12.1" text-anchor="middle" fill="#000">miR-223-3p</text>
<text x="403.3" y="879.0" font-size="12" text-anchor="middle" fill="#000">Cbx5-mut</text>
<text x="458.1" y="793.7" font-size="12.05" text-anchor="start" fill="#000" xml:space="preserve" style="white-space:pre">5’...AUUAUGUCAUUCUAC</text>
<text x="614.2" y="793.7" font-size="12.1" text-anchor="start" fill="#000" xml:space="preserve" style="white-space:pre">- AACUGACA...</text>
<text x="458.1" y="836.9" font-size="12" text-anchor="start" fill="#000">3’</text>
<text x="496.5" y="836.9" font-size="12.18" text-anchor="start" fill="#000">ACCCCAUAAACUGUUUGACUGU</text>
<text x="458.1" y="879.1" font-size="12.2" text-anchor="start" fill="#000" xml:space="preserve" style="white-space:pre">5’...AUUAUGUCGCGCUAC</text>
<text x="616.9" y="879.1" font-size="12.1" text-anchor="start" fill="#000" xml:space="preserve" style="white-space:pre">-UGCGAGUG...</text>
<line x1="554.2" y1="803.3" x2="554.2" y2="818.5" stroke="#1c1c1c" stroke-width="1.5" stroke-linecap="butt"/>
<text x="554.2" y="857.4" font-size="13.6" text-anchor="middle" fill="#f0161e">x</text>
<line x1="554.2" y1="845.8" x2="554.2" y2="861.3" stroke="#1c1c1c" stroke-width="1.5" stroke-linecap="butt"/>
<line x1="563.1" y1="803.3" x2="563.1" y2="818.5" stroke="#1c1c1c" stroke-width="1.5" stroke-linecap="butt"/>
<text x="563.1" y="857.4" font-size="13.6" text-anchor="middle" fill="#f0161e">x</text>
<line x1="563.1" y1="845.8" x2="563.1" y2="861.3" stroke="#1c1c1c" stroke-width="1.5" stroke-linecap="butt"/>
<line x1="572.1" y1="803.3" x2="572.1" y2="818.5" stroke="#1c1c1c" stroke-width="1.5" stroke-linecap="butt"/>
<text x="572.1" y="857.4" font-size="13.6" text-anchor="middle" fill="#f0161e">x</text>
<line x1="572.1" y1="845.8" x2="572.1" y2="861.3" stroke="#1c1c1c" stroke-width="1.5" stroke-linecap="butt"/>
<line x1="624.9" y1="803.3" x2="624.9" y2="818.5" stroke="#1c1c1c" stroke-width="1.5" stroke-linecap="butt"/>
<text x="624.9" y="857.4" font-size="13.6" text-anchor="middle" fill="#f0161e">x</text>
<line x1="624.9" y1="845.8" x2="624.9" y2="861.3" stroke="#1c1c1c" stroke-width="1.5" stroke-linecap="butt"/>
<line x1="633.8" y1="803.3" x2="633.8" y2="818.5" stroke="#1c1c1c" stroke-width="1.5" stroke-linecap="butt"/>
<text x="633.8" y="857.4" font-size="13.6" text-anchor="middle" fill="#f0161e">x</text>
<line x1="633.8" y1="845.8" x2="633.8" y2="861.3" stroke="#1c1c1c" stroke-width="1.5" stroke-linecap="butt"/>
<line x1="642.7" y1="803.3" x2="642.7" y2="818.5" stroke="#1c1c1c" stroke-width="1.5" stroke-linecap="butt"/>
<line x1="642.7" y1="845.8" x2="642.7" y2="861.3" stroke="#1c1c1c" stroke-width="1.5" stroke-linecap="butt"/>
<line x1="650.9" y1="803.3" x2="650.9" y2="818.5" stroke="#1c1c1c" stroke-width="1.5" stroke-linecap="butt"/>
<text x="650.9" y="857.4" font-size="13.6" text-anchor="middle" fill="#f0161e">x</text>
<line x1="650.9" y1="845.8" x2="650.9" y2="861.3" stroke="#1c1c1c" stroke-width="1.5" stroke-linecap="butt"/>
<line x1="659.8" y1="803.3" x2="659.8" y2="818.5" stroke="#1c1c1c" stroke-width="1.5" stroke-linecap="butt"/>
<text x="659.8" y="857.4" font-size="13.6" text-anchor="middle" fill="#f0161e">x</text>
<line x1="659.8" y1="845.8" x2="659.8" y2="861.3" stroke="#1c1c1c" stroke-width="1.5" stroke-linecap="butt"/>
<line x1="668.7" y1="803.3" x2="668.7" y2="818.5" stroke="#1c1c1c" stroke-width="1.5" stroke-linecap="butt"/>
<text x="668.7" y="857.4" font-size="13.6" text-anchor="middle" fill="#f0161e">x</text>
<line x1="668.7" y1="845.8" x2="668.7" y2="861.3" stroke="#1c1c1c" stroke-width="1.5" stroke-linecap="butt"/>
<line x1="677.6" y1="803.3" x2="677.6" y2="818.5" stroke="#1c1c1c" stroke-width="1.5" stroke-linecap="butt"/>
<text x="677.6" y="857.4" font-size="13.6" text-anchor="middle" fill="#f0161e">x</text>
<line x1="677.6" y1="845.8" x2="677.6" y2="861.3" stroke="#1c1c1c" stroke-width="1.5" stroke-linecap="butt"/>
</svg>
</body></html>
